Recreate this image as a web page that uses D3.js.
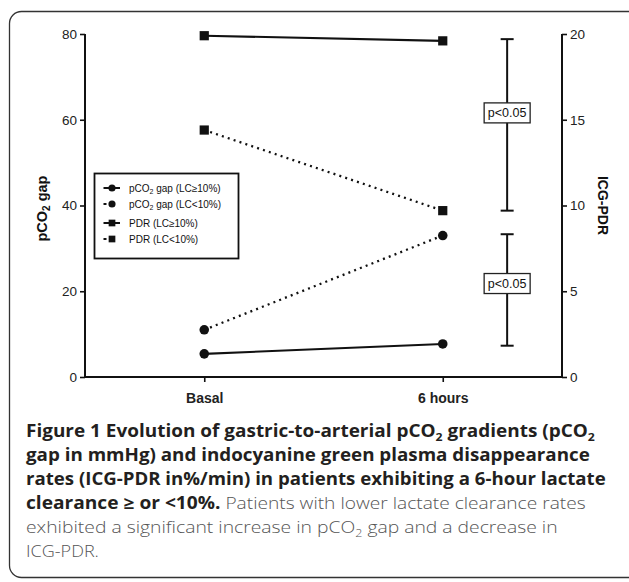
<!DOCTYPE html>
<html>
<head>
<meta charset="utf-8">
<script src="https://cdn.jsdelivr.net/npm/d3@7"></script>
<style>
  html, body { margin: 0; padding: 0; background: #fff; }
  svg { display: block; }
  .tick text { font-family: "Liberation Sans", Arial, sans-serif; }
</style>
</head>
<body>
<svg id="fig" width="629" height="582"></svg>
<script>
// data
const categories = ["Basal", "6 hours"];
const pco2High = [5.4, 7.7];    // pCO2 gap (LC>=10%), left axis
const pco2Low = [11, 33];       // pCO2 gap (LC<10%), left axis
const pdrHigh = [19.9, 19.6];   // PDR (LC>=10%), right axis
const pdrLow = [14.4, 9.7];     // PDR (LC<10%), right axis
const leftTicks = [0, 20, 40, 60, 80];
const rightTicks = [0, 5, 10, 15, 20];
const pdrBracket = [9.7, 19.7];     // right axis
const pco2Bracket = [7.3, 33.3];    // left axis
const pdrLabelAt = 15.4;
const pco2LabelAt = 21.8;

const svg = d3.select("#fig");

// outer frame
svg.append("rect")
  .attr("x", 9.5).attr("y", 11.5)
  .attr("width", 650).attr("height", 566)
  .attr("rx", 12)
  .attr("fill", "none").attr("stroke", "#333").attr("stroke-width", 1.3);

const plotL = 85, plotR = 562, plotT = 34, plotB = 377;

const x = d3.scalePoint().domain(categories).range([plotL, plotR]).padding(0.5);
const yL = d3.scaleLinear().domain([0, 80]).range([plotB, plotT]);
const yR = d3.scaleLinear().domain([0, 20]).range([plotB, plotT]);

const axisFont = "Liberation Sans, Arial, sans-serif";

// left axis
const gl = svg.append("g").attr("transform", `translate(${plotL},0)`)
  .call(d3.axisLeft(yL).tickValues(leftTicks).tickSize(5).tickPadding(3));
// right axis
const gr = svg.append("g").attr("transform", `translate(${plotR},0)`)
  .call(d3.axisRight(yR).tickValues(rightTicks).tickSize(5).tickPadding(3));
// bottom axis
const gb = svg.append("g").attr("transform", `translate(0,${plotB})`)
  .call(d3.axisBottom(x).tickSize(5).tickPadding(11).tickSizeOuter(0));

[gl, gr, gb].forEach(g => {
  g.select(".domain").attr("stroke", "#111").attr("stroke-width", 2);
  g.selectAll(".tick line").attr("stroke", "#111").attr("stroke-width", 1.6);
  g.selectAll(".tick text").attr("fill", "#222").style("font-size", "13.5px");
});
gl.select(".domain").attr("d", `M0,${plotT}V${plotB}`);
gr.select(".domain").attr("d", `M0,${plotT}V${plotB}`);
gb.select(".domain").attr("d", `M${plotL},0H${plotR}`);
gb.selectAll(".tick text").style("font-weight", "bold").style("font-size", "14px");

// axis titles
const lt = svg.append("text")
  .attr("transform", `translate(47,${(plotT + plotB) / 2 + 3}) rotate(-90)`)
  .attr("text-anchor", "middle")
  .style("font-family", axisFont).style("font-weight", "bold").style("font-size", "14.5px")
  .attr("fill", "#111");
lt.append("tspan").text("pCO");
lt.append("tspan").text("2").attr("dy", 3).style("font-size", "10px");
lt.append("tspan").text(" gap").attr("dy", -3);

svg.append("text")
  .attr("transform", `translate(598,${(plotT + plotB) / 2}) rotate(90)`)
  .attr("text-anchor", "middle")
  .style("font-family", axisFont).style("font-weight", "bold").style("font-size", "14px")
  .attr("fill", "#111")
  .text("ICG-PDR");

// series
const series = [
  { name: "pco2High", vals: pco2High, y: yL, shape: "circle", dash: null },
  { name: "pco2Low", vals: pco2Low, y: yL, shape: "circle", dash: "2,4.2" },
  { name: "pdrHigh", vals: pdrHigh, y: yR, shape: "square", dash: null },
  { name: "pdrLow", vals: pdrLow, y: yR, shape: "square", dash: "2,4.2" }
];

const line = s => d3.line().x((d, i) => x(categories[i])).y(d => s.y(d));

series.forEach(s => {
  svg.append("path")
    .datum(s.vals)
    .attr("d", line(s))
    .attr("fill", "none")
    .attr("stroke", "#111")
    .attr("stroke-width", s.dash ? 2.3 : 2.1)
    .attr("stroke-dasharray", s.dash);
  const sym = d3.symbol().type(s.shape === "circle" ? d3.symbolCircle : d3.symbolSquare)
    .size(s.shape === "circle" ? 72 : 85);
  svg.selectAll(null).data(s.vals).enter().append("path")
    .attr("d", sym)
    .attr("transform", (d, i) => `translate(${x(categories[i])},${s.y(d)})`)
    .attr("fill", "#111");
});

// significance brackets
const bx = x("6 hours") + x.step() * 0.27;
function bracket(scale, range, labelAt) {
  const g = svg.append("g");
  g.append("line").attr("x1", bx).attr("x2", bx)
    .attr("y1", scale(range[0])).attr("y2", scale(range[1]))
    .attr("stroke", "#111").attr("stroke-width", 2);
  range.forEach(v => {
    g.append("line").attr("x1", bx - 6.5).attr("x2", bx + 6.5)
      .attr("y1", scale(v)).attr("y2", scale(v))
      .attr("stroke", "#111").attr("stroke-width", 2);
  });
  const cy = scale(labelAt);
  g.append("rect").attr("x", bx - 23).attr("y", cy - 10)
    .attr("width", 46).attr("height", 20)
    .attr("fill", "#fff").attr("stroke", "#222").attr("stroke-width", 1.3);
  g.append("text").attr("x", bx).attr("y", cy + 4.5)
    .attr("text-anchor", "middle")
    .style("font-family", axisFont).style("font-size", "12.5px")
    .attr("fill", "#111").text("p<0.05");
}
bracket(yR, pdrBracket, pdrLabelAt);
bracket(yL, pco2Bracket, pco2LabelAt);

// legend
const legendItems = [
  { pre: "pCO", sub: "2", post: " gap (LC\u226510%)", shape: "circle", dash: false },
  { pre: "pCO", sub: "2", post: " gap (LC<10%)", shape: "circle", dash: true },
  { pre: "PDR (LC\u226510%)", sub: "", post: "", shape: "square", dash: false },
  { pre: "PDR (LC<10%)", sub: "", post: "", shape: "square", dash: true }
];
const legendRows = [188, 204, 223, 239];
svg.append("rect").attr("x", 94.5).attr("y", 173.5).attr("width", 144).attr("height", 85)
  .attr("fill", "#fff").attr("stroke", "#111").attr("stroke-width", 1.8);
legendItems.forEach((it, i) => {
  const yy = legendRows[i];
  const g = svg.append("g");
  if (it.dash) {
    g.append("line").attr("x1", 103.5).attr("x2", 106.5).attr("y1", yy).attr("y2", yy)
      .attr("stroke", "#111").attr("stroke-width", 2);
  } else {
    g.append("line").attr("x1", 103.5).attr("x2", 120).attr("y1", yy).attr("y2", yy)
      .attr("stroke", "#111").attr("stroke-width", 2);
  }
  g.append("path")
    .attr("d", d3.symbol().type(it.shape === "circle" ? d3.symbolCircle : d3.symbolSquare)
      .size(it.shape === "circle" ? 40 : 45))
    .attr("transform", `translate(112,${yy})`).attr("fill", "#111");
  const t = g.append("text").attr("x", 129).attr("y", yy + 3.5)
    .style("font-family", axisFont).style("font-size", "10px").attr("fill", "#111");
  t.append("tspan").text(it.pre);
  if (it.sub) {
    t.append("tspan").text(it.sub).attr("dy", 2.5).style("font-size", "7px");
    t.append("tspan").text(it.post).attr("dy", -2.5);
  }
});

// caption
const capFont = "'Open Sans', 'Noto Sans', sans-serif";
const capLines = [
  { y: 437, end: 595, parts: [
    { t: "Figure 1 Evolution of gastric-to-arterial pCO", b: true },
    { t: "2", b: true, sub: true },
    { t: " gradients (pCO", b: true },
    { t: "2", b: true, sub: true }] },
  { y: 461, end: 590, parts: [{ t: "gap in mmHg) and indocyanine green plasma disappearance", b: true }] },
  { y: 485, end: 606, parts: [{ t: "rates (ICG-PDR in%/min) in patients exhibiting a 6-hour lactate", b: true }] },
  { y: 509, end: 586, parts: [
    { t: "clearance \u2265 or <10%.", b: true },
    { t: " Patients with lower lactate clearance rates", b: false }] },
  { y: 533, end: 558, parts: [
    { t: "exhibited a significant increase in pCO", b: false },
    { t: "2", b: false, sub: true },
    { t: " gap and a decrease in", b: false }] },
  { y: 557, end: 99, parts: [{ t: "ICG-PDR.", b: false }] }
];
const capX = 26;
capLines.forEach(ln => {
  const g = svg.append("g");
  const t = g.append("text").attr("x", 0).attr("y", 0)
    .style("font-family", capFont).style("font-size", "17px");
  let shifted = false;
  ln.parts.forEach(p => {
    const ts = t.append("tspan").text(p.t)
      .attr("fill", p.b ? "#231f20" : "#555")
      .style("font-weight", p.b ? "bold" : "300");
    if (p.sub) { ts.attr("dy", 3.5).style("font-size", "11px"); shifted = true; }
    else if (shifted) { ts.attr("dy", -3.5); shifted = false; }
  });
  const w = t.node().getComputedTextLength();
  const sx = (ln.end - capX) / w;
  g.attr("transform", `translate(${capX},${ln.y}) scale(${sx},1)`);
});
</script>
</body>
</html>
